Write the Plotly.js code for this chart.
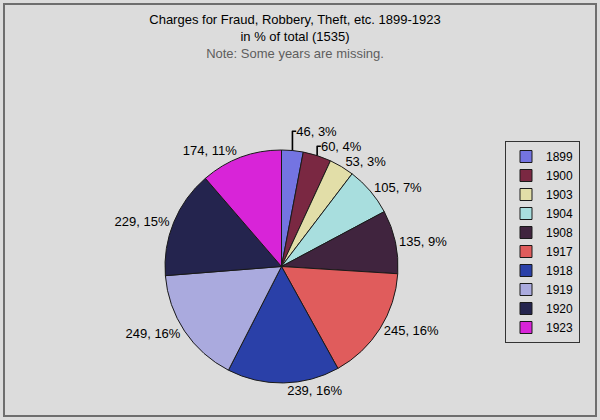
<!DOCTYPE html>
<html><head><meta charset="utf-8">
<script src="https://cdn.plot.ly/plotly-3.0.1.min.js"></script>
<style>html,body{margin:0;padding:0;background:#dcdcdc}</style>
</head><body>
<div id="chart" style="width:600px;height:420px"></div>
<script>
const years = ['1899','1900','1903','1904','1908','1917','1918','1919','1920','1923'];
const charges = [46, 60, 53, 105, 135, 245, 239, 249, 229, 174];
const colors = ['#7474e2','#7a2842','#e2dea8','#a8dede','#40243e','#e05c5c','#2a40a8','#aaaade','#24244e','#d824d8'];

const trace = {
  type: 'pie',
  labels: years,
  values: charges,
  sort: false,
  direction: 'clockwise',
  rotation: 0,
  marker: {colors: colors, line: {color: '#1a1a1a', width: 1}},
  textposition: 'outside',
  texttemplate: '%{value}, %{percent:.0%}',
  textfont: {family: 'Liberation Sans, Arial, sans-serif', size: 13, color: '#000'},
  hoverinfo: 'label+value+percent',
  domain: {x: [0.275, 0.6633], y: [0.088, 0.643]}
};

const layout = {
  width: 600, height: 420,
  margin: {l: 0, r: 0, t: 0, b: 0},
  paper_bgcolor: '#dcdcdc',
  plot_bgcolor: '#dcdcdc',
  font: {family: 'Liberation Sans, Arial, sans-serif', size: 13, color: '#000'},
  title: {
    text: 'Charges for Fraud, Robbery, Theft, etc. 1899-1923<br>in % of total (1535)<br><span style="color:#5e5e5e">Note: Some years are missing.</span>',
    x: 295/600, xanchor: 'center', y: 1 - 24/420, yanchor: 'top', yref: 'container',
    font: {family: 'Liberation Sans, Arial, sans-serif', size: 13, color: '#000'}
  },
  showlegend: true,
  legend: {
    x: 580/600, xanchor: 'right', y: 1 - 141/420, yanchor: 'top',
    bgcolor: '#dcdcdc', bordercolor: '#333', borderwidth: 1,
    font: {family: 'Liberation Sans, Arial, sans-serif', size: 12, color: '#000'},
    traceorder: 'normal'
  },
  shapes: [{
    type: 'rect', xref: 'paper', yref: 'paper',
    x0: 4/600, x1: 596/600, y0: 1 - 416/420, y1: 1 - 4/420,
    line: {color: '#6e6e6e', width: 2}, fillcolor: 'rgba(0,0,0,0)', layer: 'below'
  }]
};

Plotly.newPlot('chart', [trace], layout, {displayModeBar: false, staticPlot: true});
</script>
</body></html>
